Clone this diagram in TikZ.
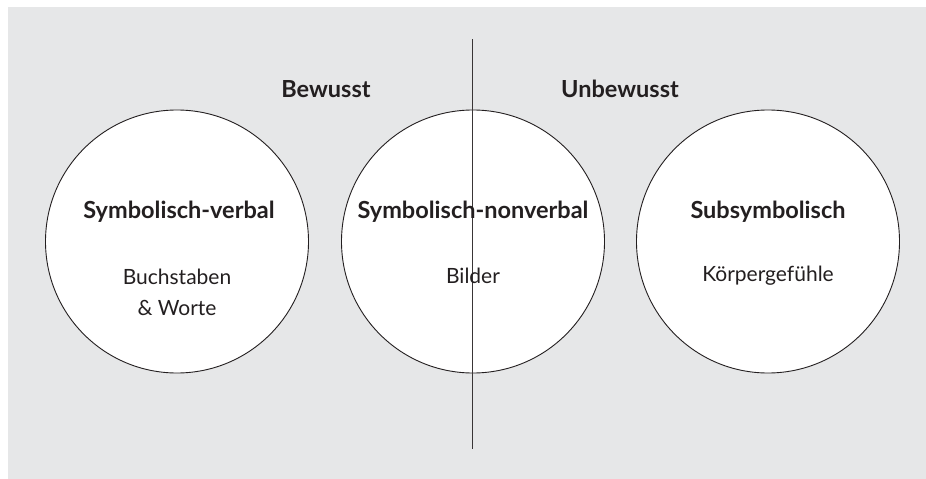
\documentclass[tikz,border=0pt]{standalone}
\usepackage{fontspec}
\setmainfont{Lato}
\definecolor{bggray}{HTML}{E6E7E8}
\definecolor{ink}{HTML}{231F20}
\begin{document}
\begin{tikzpicture}[x=1pt,y=-1pt,
  sphere/.style={circle,draw=ink,line width=0.9pt,fill=white,minimum size=263pt,inner sep=0pt},
  head/.style={font=\fontsize{23.5}{26}\selectfont\bfseries,text=ink,inner sep=0pt},
  body/.style={font=\fontsize{21}{31}\selectfont,text=ink,inner sep=0pt,align=center}]
\useasboundingbox (0,0) rectangle (926,479);
\fill[bggray] (8,7) rectangle (926,479);
\node[sphere] (c1) at (177,241.5) {};
\node[sphere] (c2) at (473,241.5) {};
\node[sphere] (c3) at (768,241.5) {};
\coordinate (ltop) at (472,39);
\coordinate (lbot) at (472,449);
\draw[ink!90,line width=1pt] (ltop) -- (lbot);
\node[head] (bew) at (326,89) {Bewusst};
\node[head] (unb) at (620,89) {Unbewusst};
\node[head] (t1) at (179,212) {Symbolisch-verbal};
\node[head] (t2) at (473,212) {Symbolisch-nonverbal};
\node[head] (t3) at (768,212) {Subsymbolisch};
\node[body] (b1) at (177,292.5) {Buchstaben\\\&~Worte};
\node[body] (b2) at (473,276) {Bilder};
\node[body] (b3) at (768,276) {Körpergefühle};
\end{tikzpicture}
\end{document}
